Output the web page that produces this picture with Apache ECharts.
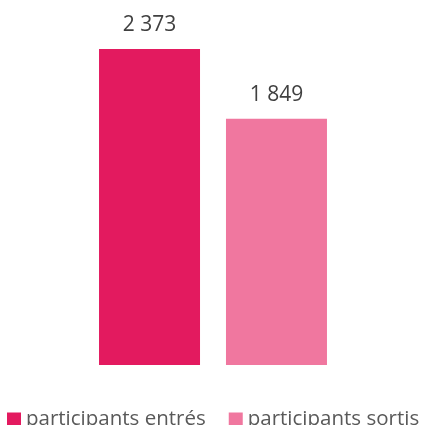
<!DOCTYPE html>
<html>
<head>
<meta charset="utf-8">
<script src="https://cdn.jsdelivr.net/npm/echarts@6/dist/echarts.min.js"></script>
<style>
  html, body { margin: 0; padding: 0; background: #fff; }
  #main { width: 425px; height: 425px; }
</style>
</head>
<body>
<div id="main"></div>
<script>
var categories = [''];
var seriesNames = ['participants entrés', 'participants sortis'];
var entres = [2373];
var sortis = [1849];
var colors = ['#E31A5F', '#F0779F'];

var chart = echarts.init(document.getElementById('main'));

function fmt(v) {
  return String(v).replace(/\B(?=(\d{3})+(?!\d))/g, ' ');
}

var labelStyle = {
  show: true,
  position: 'top',
  distance: 13,
  color: '#404040',
  fontSize: 21,
  fontFamily: 'Open Sans',
  formatter: function (p) { return fmt(p.value); }
};

var option = {
  backgroundColor: '#fff',
  animation: false,
  grid: { left: 99, right: 98, top: 49, bottom: 60 },
  xAxis: {
    type: 'category',
    data: categories,
    axisLine: { show: false },
    axisTick: { show: false },
    axisLabel: { show: false }
  },
  yAxis: {
    type: 'value',
    min: 0,
    max: 2373,
    show: false
  },
  legend: {
    left: 7,
    top: 409,
    width: 440,
    padding: 0,
    itemWidth: 14,
    itemHeight: 14,
    itemGap: 23,
    icon: 'rect',
    textStyle: { color: '#595959', fontSize: 20.5, lineHeight: 14, fontFamily: 'Open Sans' },
    data: seriesNames
  },
  series: [
    {
      name: seriesNames[0],
      type: 'bar',
      data: entres,
      barWidth: 101,
      barGap: '25.7%',
      itemStyle: { color: colors[0] },
      label: labelStyle
    },
    {
      name: seriesNames[1],
      type: 'bar',
      data: sortis,
      barWidth: 101,
      itemStyle: { color: colors[1] },
      label: labelStyle
    }
  ]
};

chart.setOption(option);
</script>
</body>
</html>
